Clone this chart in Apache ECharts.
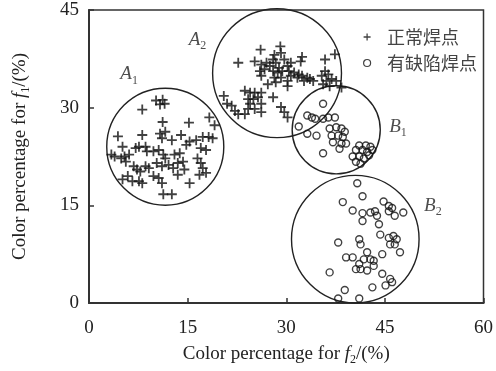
<!DOCTYPE html>
<html>
<head>
<meta charset="utf-8">
<script src="https://cdn.jsdelivr.net/npm/echarts@6/dist/echarts.min.js"></script>
<style>
  html, body { margin: 0; padding: 0; background: #fff; }
  #chart { width: 496px; height: 371px; }
</style>
</head>
<body>
<div id="chart"></div>
<script>
const xTicks = [0, 15, 30, 45, 60];
const yTicks = [0, 15, 30, 45];

// cluster circles: [centerX, centerY, radius] in data units
const clusters = [
  [11.6, 24.0, 8.9],
  [28.6, 35.3, 9.8],
  [37.6, 26.6, 6.7],
  [40.5, 9.8, 9.7],
];

// region labels: [x, y, letter, index]
const regionLabels = [
  [6.1, 35.1, "A", "1"],
  [16.5, 40.4, "A", "2"],
  [47.0, 27.1, "B", "1"],
  [52.3, 14.9, "B", "2"],
];

// normal joints (A1 + A2)
const normalA1 = [
  [10.2, 31.1], [11.2, 31.2], [10.8, 30.5], [11.5, 30.6], [8.1, 29.7],
  [11.2, 27.8], [15.2, 27.7], [18.3, 28.5], [19.1, 27.3], [4.4, 25.6],
  [8.1, 25.8], [10.8, 26.0], [11.6, 26.3], [11.1, 25.3], [12.6, 25.0],
  [14.0, 25.8], [15.3, 24.8], [16.3, 25.0], [17.3, 25.5], [18.2, 25.5],
  [18.8, 25.3], [5.1, 24.0], [3.4, 22.8], [3.9, 22.5], [5.4, 22.5],
  [6.1, 22.8], [7.1, 23.8], [7.6, 24.0], [8.6, 24.0], [8.8, 23.3],
  [9.8, 23.3], [10.6, 23.5], [11.3, 22.8], [11.6, 22.2], [13.0, 22.8],
  [13.8, 23.0], [14.8, 24.3], [17.0, 23.8], [17.8, 23.5], [4.9, 22.2],
  [5.6, 21.7], [6.8, 21.0], [7.3, 20.5], [7.8, 20.2], [8.6, 21.0],
  [9.1, 20.7], [10.3, 21.5], [11.1, 21.0], [12.1, 21.2], [12.8, 20.7],
  [13.5, 21.5], [14.3, 21.7], [14.5, 20.5], [16.5, 22.2], [17.0, 21.5],
  [17.3, 20.7], [16.8, 19.7], [17.8, 20.0], [5.9, 19.5], [5.1, 19.0],
  [6.6, 18.7], [7.6, 18.7], [8.1, 18.4], [9.8, 19.5], [10.6, 19.2],
  [11.1, 18.4], [13.5, 19.7], [15.3, 18.4], [11.3, 16.7], [12.6, 16.7],
];
const normalA2 = [
  [26.1, 38.9], [29.1, 39.4], [29.2, 38.4], [22.7, 36.9], [28.2, 38.1],
  [28.0, 37.4], [25.2, 37.1], [26.2, 36.6], [27.0, 36.9], [27.5, 36.4],
  [28.4, 36.9], [28.9, 36.1], [29.7, 37.4], [30.2, 36.4], [30.7, 36.9],
  [32.4, 37.8], [32.2, 37.1], [35.9, 37.4], [37.4, 38.2], [26.0, 35.6],
  [26.7, 35.9], [28.0, 35.6], [28.7, 35.4], [29.4, 35.6], [30.4, 35.6],
  [31.2, 35.4], [31.9, 35.1], [32.4, 34.9], [33.2, 34.6], [33.6, 34.4],
  [26.2, 34.9], [28.2, 34.6], [29.2, 34.6], [30.2, 34.1], [30.7, 34.9],
  [27.2, 33.6], [28.4, 33.9], [30.2, 33.3], [31.7, 34.6], [32.7, 34.1],
  [34.1, 34.1], [35.4, 34.9], [35.9, 35.6], [36.4, 35.1], [36.1, 34.1],
  [36.9, 34.4], [37.6, 34.1], [38.4, 33.1], [35.6, 33.6], [36.6, 33.3],
  [23.7, 32.6], [24.5, 32.3], [25.2, 32.3], [26.2, 32.3], [28.0, 31.6],
  [24.2, 31.3], [25.0, 31.3], [25.7, 31.6], [24.5, 30.6], [26.2, 30.6],
  [20.5, 31.8], [21.0, 30.6], [21.7, 30.3], [22.2, 29.5], [24.2, 29.8],
  [25.2, 29.8], [26.2, 29.3], [22.7, 29.0], [23.7, 29.0], [29.2, 30.1],
  [29.7, 29.3], [30.2, 28.5],
];

// defective joints (B1 + B2)
const defectB1 = [
  [35.6, 30.6], [33.2, 28.8], [33.9, 28.5], [34.4, 28.3], [35.6, 28.3],
  [36.4, 28.5], [37.4, 28.5], [31.9, 27.1], [33.2, 26.0], [34.6, 25.7],
  [36.6, 26.8], [37.6, 27.0], [38.4, 26.8], [38.9, 26.3], [36.9, 25.7],
  [37.9, 25.7], [38.6, 25.5], [37.1, 24.7], [38.4, 24.5], [39.1, 24.5],
  [38.1, 23.7], [35.6, 23.0], [41.1, 24.2], [42.1, 24.2], [42.8, 24.0],
  [40.6, 23.5], [41.6, 23.5], [42.3, 23.2], [43.1, 23.5], [40.1, 22.5],
  [41.1, 22.5], [41.8, 22.2], [42.6, 22.7], [40.6, 21.7], [41.3, 21.4],
];
const defectB2 = [
  [40.8, 18.4], [41.6, 16.4], [38.6, 15.5], [40.1, 14.2], [41.6, 13.8],
  [42.8, 13.9], [43.5, 14.1], [43.8, 13.4], [41.6, 12.6], [44.1, 12.1],
  [44.8, 15.6], [45.6, 14.9], [46.1, 14.6], [45.6, 14.1], [46.5, 13.4],
  [47.8, 13.9], [41.1, 9.8], [41.3, 9.0], [37.9, 9.3], [44.3, 10.5],
  [45.6, 10.0], [46.3, 10.3], [46.8, 9.8], [45.8, 9.0], [46.5, 9.0],
  [47.3, 7.8], [39.1, 7.0], [40.1, 7.0], [42.3, 7.8], [42.8, 6.7],
  [41.8, 6.7], [41.1, 6.0], [43.3, 6.5], [44.6, 7.5], [40.6, 5.2],
  [41.3, 5.2], [42.3, 5.0], [43.3, 5.7], [36.6, 4.7], [44.6, 4.5],
  [45.8, 3.7], [46.1, 3.2], [45.1, 2.7], [38.9, 2.0], [43.1, 2.4],
  [41.1, 0.7], [37.9, 0.7],
];

const SERIF = '"Liberation Serif", "Times New Roman", serif';
const CJK = '"Noto Sans CJK SC", sans-serif';
const INK = "#222";
const CROSS = "path://M4.1,0H5.9V4.1H10V5.9H5.9V10H4.1V5.9H0V4.1H4.1Z";

const nameRich = {
  n: { fontFamily: SERIF, fontSize: 19, color: INK, lineHeight: 24 },
  f: { fontFamily: SERIF, fontSize: 19, color: INK, fontStyle: "italic", lineHeight: 24 },
  s: { fontFamily: SERIF, fontSize: 12, color: INK, lineHeight: 12, verticalAlign: "bottom" },
};

const chart = echarts.init(document.getElementById("chart"));
chart.setOption({
  animation: false,
  backgroundColor: "#fff",
  grid: {
    left: 89, right: 4, top: 10, bottom: 65,
    show: true, borderColor: "#333", borderWidth: 1.5,
  },
  legend: {
    orient: "vertical",
    left: 358,
    top: 23,
    itemWidth: 20,
    itemHeight: 7,
    itemGap: 8,
    data: ["正常焊点", "有缺陷焊点"],
    itemStyle: { borderWidth: 1.2 },
    textStyle: { fontFamily: CJK, fontSize: 18, color: "#444", lineHeight: 18, padding: [0, 0, 0, 5] },
  },
  xAxis: {
    type: "value",
    min: xTicks[0], max: xTicks[xTicks.length - 1], interval: 15,
    splitLine: { show: false },
    axisLine: { lineStyle: { color: "#333", width: 2 } },
    axisTick: { inside: true, length: 5, lineStyle: { color: "#333", width: 1.5 } },
    axisLabel: { fontFamily: SERIF, fontSize: 19, color: INK, margin: 16 },
    name: "{n|Color percentage for }{f|f}{s|2}{n|/(%)}",
    nameLocation: "middle",
    nameGap: 39,
    nameTextStyle: { rich: nameRich },
  },
  yAxis: {
    type: "value",
    min: yTicks[0], max: yTicks[yTicks.length - 1], interval: 15,
    splitLine: { show: false },
    axisLine: { lineStyle: { color: "#333", width: 2 } },
    axisTick: { inside: true, length: 5, lineStyle: { color: "#333", width: 1.5 } },
    axisLabel: { fontFamily: SERIF, fontSize: 19, color: INK, margin: 10 },
    name: "{n|Color percentage for }{f|f}{s|1}{n|/(%)}",
    nameLocation: "middle",
    nameGap: 57,
    nameTextStyle: { rich: nameRich },
  },
  series: [
    {
      type: "custom",
      data: clusters,
      silent: true,
      clip: false,
      renderItem: (params, api) => {
        const c = api.coord([api.value(0), api.value(1)]);
        const r = api.size([api.value(2), 0])[0];
        return {
          type: "circle",
          shape: { cx: c[0], cy: c[1], r },
          style: { fill: "none", stroke: INK, lineWidth: 1.4 },
        };
      },
    },
    {
      name: "正常焊点",
      type: "scatter",
      data: normalA1.concat(normalA2),
      symbol: CROSS,
      symbolSize: 10,
      itemStyle: { color: "#111" },
    },
    {
      name: "有缺陷焊点",
      type: "scatter",
      data: defectB1.concat(defectB2),
      symbol: "circle",
      symbolSize: 7,
      itemStyle: { color: "rgba(255,255,255,0)", borderColor: "#111", borderWidth: 1.4 },
    },
    {
      type: "scatter",
      data: regionLabels,
      symbolSize: 0,
      silent: true,
      label: {
        show: true,
        position: "inside",
        formatter: (p) => "{i|" + p.value[2] + "}{s|" + p.value[3] + "}",
        rich: {
          i: { fontFamily: SERIF, fontSize: 19, fontStyle: "italic", color: INK, lineHeight: 24 },
          s: { fontFamily: SERIF, fontSize: 12, color: INK, lineHeight: 12, verticalAlign: "bottom" },
        },
      },
    },
  ],
});
</script>
</body>
</html>
